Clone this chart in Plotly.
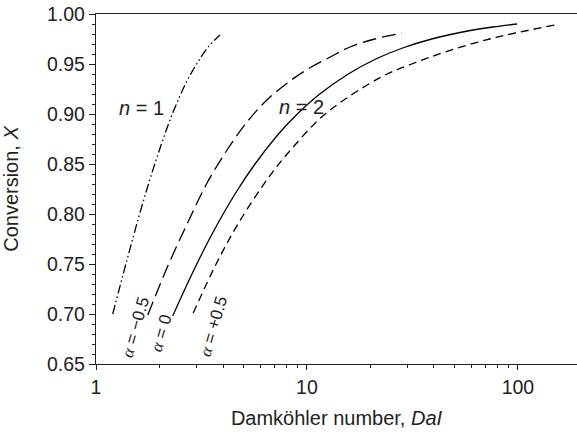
import plotly.graph_objects as go

# Conversion vs. Damköhler number
da_n1 = [1.20, 1.39, 1.61, 1.90, 2.30, 2.70, 3.00, 3.40, 3.87]
x_n1 = [0.700, 0.751, 0.800, 0.850, 0.900, 0.933, 0.950, 0.967, 0.979]

da_am = [1.76, 2.19, 2.73, 3.36, 4.18, 5.20, 6.46, 8.31, 10.3, 12.9, 16.0, 21.0, 28.2]
x_am = [0.699, 0.748, 0.792, 0.831, 0.864, 0.892, 0.914, 0.933, 0.946, 0.957, 0.967, 0.975, 0.981]

da_a0 = [2.31, 2.85, 3.55, 4.56, 5.67, 7.33, 9.0, 11.5, 15.7, 21.2, 28.4, 39.0, 54.6, 76.0, 99.0]
x_a0 = [0.698, 0.740, 0.780, 0.820, 0.850, 0.880, 0.900, 0.920, 0.940, 0.955, 0.966, 0.975, 0.982, 0.987, 0.990]

da_ap = [2.89, 3.71, 4.74, 6.55, 8.21, 12.2, 22.5, 31.4, 45.1, 73.4, 97.2, 150.0]
x_ap = [0.701, 0.750, 0.791, 0.836, 0.862, 0.900, 0.937, 0.950, 0.962, 0.975, 0.981, 0.989]

x_major = [1, 10, 100]
x_minor = [2, 3, 4, 5, 6, 7, 8, 9, 20, 30, 40, 50, 60, 70, 80, 90]

FONT = "Liberation Sans, Arial, sans-serif"
INK = "#222"
LW = 1.3

fig = go.Figure()
series = [
    (da_n1, x_n1, "9px,3px,1.5px,3px,1.5px,3px"),
    (da_am, x_am, "14px,6px"),
    (da_a0, x_a0, "solid"),
    (da_ap, x_ap, "8px,5px"),
]
for xs, ys, dash in series:
    fig.add_trace(go.Scatter(
        x=xs, y=ys, mode="lines",
        line=dict(color="black", width=LW, dash=dash, shape="spline", smoothing=1.0),
        showlegend=False, hoverinfo="skip",
    ))

ALPHA = '<span style="font-family:Liberation Serif, Times New Roman, serif"><i>α</i></span>'
labels = [
    (0.218, 0.906, "<i>n</i> = 1", 0, 20),
    (0.976, 0.907, "<i>n</i> = 2", 0, 20),
    (0.185, 0.687, ALPHA + " = \u22120.5", -74, 17),
    (0.307, 0.681, ALPHA + " = 0", -74, 17),
    (0.555, 0.688, ALPHA + " = +0.5", -74, 17),
]
for lx, ly, txt, ang, sz in labels:
    fig.add_annotation(
        x=lx, y=ly, xref="x", yref="y", text=txt, showarrow=False,
        textangle=ang, font=dict(family=FONT, size=sz, color=INK),
        xanchor="center", yanchor="middle",
    )

fig.update_xaxes(
    type="log", range=[0, 2.28],
    tickvals=x_major, ticktext=[str(v) for v in x_major],
    ticks="outside", ticklen=5, tickwidth=1.2, tickcolor=INK,
    minor=dict(tickvals=x_minor, ticks="outside", ticklen=3, tickwidth=1, tickcolor=INK),
    showline=True, linecolor=INK, linewidth=1.3, mirror=True,
    showgrid=False, zeroline=False,
    tickfont=dict(family=FONT, size=19.5, color=INK),
    title=dict(text="Damköhler number, <i>DaI</i>", font=dict(family=FONT, size=20, color=INK), standoff=14),
)
fig.update_yaxes(
    range=[0.65, 1.00], dtick=0.05, tickformat=".2f",
    ticks="outside", ticklen=6, tickwidth=1.2, tickcolor=INK,
    minor=dict(dtick=0.01, ticks="outside", ticklen=3, tickwidth=1, tickcolor=INK),
    showline=True, linecolor=INK, linewidth=1.3,
    showgrid=False, zeroline=False,
    tickfont=dict(family=FONT, size=19.5, color=INK),
    title=dict(text="Conversion, <i>X</i>", font=dict(family=FONT, size=20, color=INK), standoff=22),
)
fig.update_layout(
    width=577, height=432,
    margin=dict(l=96, r=0, t=14, b=68),
    plot_bgcolor="white", paper_bgcolor="white",
)
fig.write_html("out.html")
